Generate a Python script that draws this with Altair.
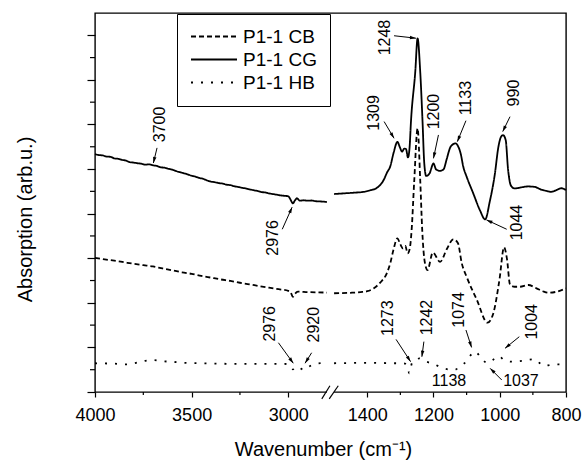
import math

import altair as alt
import pandas as pd

FONT = "Liberation Sans"

# Broken wavenumber axis: 4000-2800 cm-1 on the left part, 1500-800 cm-1 on the right part.
LEFT_SPAN = (4000, 2800)
RIGHT_SPAN = (1500, 800)
GAP = 0.031
U_MAX = 2 + GAP
W, H = 471, 379
Y_MAX = 17


def to_u(w):
    if w >= 2000:
        return (LEFT_SPAN[0] - w) / (LEFT_SPAN[0] - LEFT_SPAN[1])
    return 1 + GAP + (RIGHT_SPAN[0] - w) / (RIGHT_SPAN[0] - RIGHT_SPAN[1])


# ---- spectra: (wavenumber, absorption) ----
CG_LEFT = [
    (4000, 10.67), (3980, 10.63), (3960, 10.61), (3940, 10.56), (3920, 10.55), (3900, 10.48),
    (3880, 10.46), (3860, 10.41), (3840, 10.38), (3820, 10.31), (3800, 10.29), (3780, 10.26),
    (3760, 10.24), (3740, 10.20), (3720, 10.21), (3700, 10.17), (3680, 10.14), (3660, 10.08),
    (3640, 10.06), (3620, 10.01), (3600, 9.97), (3580, 9.91), (3560, 9.86), (3540, 9.81),
    (3520, 9.76), (3500, 9.70), (3480, 9.66), (3460, 9.60), (3440, 9.56), (3420, 9.49),
    (3400, 9.44), (3380, 9.41), (3360, 9.37), (3340, 9.35), (3320, 9.30), (3300, 9.28),
    (3280, 9.23), (3260, 9.20), (3240, 9.16), (3220, 9.13), (3200, 9.09), (3180, 9.05),
    (3160, 9.02), (3140, 8.97), (3120, 8.95), (3100, 8.91), (3080, 8.88), (3060, 8.85),
    (3040, 8.82), (3020, 8.80), (3000, 8.78), (2990, 8.66), (2976, 8.46), (2967, 8.57),
    (2955, 8.69), (2940, 8.58), (2920, 8.60), (2900, 8.58), (2880, 8.59), (2860, 8.56),
    (2840, 8.55), (2820, 8.54), (2800, 8.52),
]
CG_RIGHT = [
    (1500, 8.88), (1470, 8.91), (1440, 8.94), (1410, 8.98), (1390, 9.05), (1375, 9.12),
    (1360, 9.30), (1350, 9.52), (1340, 9.85), (1331, 10.10), (1320, 10.75), (1309, 11.22),
    (1302, 11.00), (1295, 10.78), (1288, 10.92), (1283, 10.90), (1277, 10.52), (1272, 11.00),
    (1268, 12.12), (1255, 14.36), (1248, 15.86), (1240, 14.36), (1233, 12.12), (1228, 10.30),
    (1222, 9.69), (1212, 9.80), (1200, 10.25), (1192, 9.98), (1180, 9.92), (1170, 9.98),
    (1160, 10.45), (1150, 10.95), (1140, 11.12), (1133, 11.15), (1125, 11.00), (1118, 10.70),
    (1110, 10.10), (1100, 9.66), (1080, 8.91), (1060, 8.16), (1044, 7.74), (1030, 8.55),
    (1015, 9.75), (1004, 11.00), (996, 11.45), (990, 11.52), (982, 11.30), (975, 10.00),
    (966, 9.25), (955, 9.13), (935, 9.18), (915, 9.22), (895, 9.20), (875, 9.08),
    (860, 9.02), (845, 8.98), (830, 9.05), (815, 9.14), (800, 9.06),
]
CB_LEFT = [
    (4000, 6.02), (3950, 5.95), (3900, 5.89), (3850, 5.82), (3800, 5.75), (3750, 5.69),
    (3700, 5.63), (3650, 5.54), (3600, 5.46), (3550, 5.37), (3500, 5.30), (3450, 5.21),
    (3400, 5.13), (3350, 5.05), (3300, 4.98), (3250, 4.90), (3200, 4.83), (3150, 4.75),
    (3100, 4.68), (3050, 4.61), (3000, 4.54), (2988, 4.48), (2976, 4.27), (2966, 4.40),
    (2950, 4.50), (2900, 4.48), (2850, 4.47), (2800, 4.46),
]
CB_RIGHT = [
    (1500, 4.43), (1450, 4.45), (1420, 4.48), (1400, 4.52), (1380, 4.65), (1360, 4.92),
    (1341, 5.32), (1330, 5.80), (1321, 6.37), (1309, 6.89), (1300, 6.62), (1292, 6.44),
    (1285, 6.55), (1278, 6.22), (1272, 6.40), (1266, 7.26), (1258, 9.50), (1248, 11.82),
    (1240, 9.50), (1234, 7.26), (1226, 5.80), (1218, 5.47), (1202, 6.25), (1180, 5.84),
    (1160, 6.40), (1140, 6.85), (1126, 6.67), (1115, 5.80), (1100, 5.17), (1069, 4.13),
    (1037, 3.11), (1020, 3.50), (1001, 5.02), (987, 6.49), (978, 5.95), (969, 4.82),
    (955, 4.72), (939, 4.72), (914, 4.80), (889, 4.65), (870, 4.52), (853, 4.45),
    (828, 4.50), (800, 4.65),
]
HB_LEFT = [
    (4000, 1.29), (3950, 1.28), (3900, 1.27), (3836, 1.24), (3780, 1.32), (3740, 1.40),
    (3700, 1.43), (3650, 1.38), (3594, 1.35), (3540, 1.31), (3456, 1.29), (3350, 1.27),
    (3283, 1.26), (3200, 1.26), (3110, 1.26), (3024, 1.26), (3000, 1.25), (2988, 1.18),
    (2976, 1.02), (2962, 1.14), (2945, 1.10), (2920, 0.99), (2900, 1.10), (2877, 1.21),
    (2850, 1.28), (2800, 1.31),
]
HB_RIGHT = [
    (1500, 1.29), (1450, 1.30), (1400, 1.31), (1350, 1.30), (1320, 1.29), (1290, 1.29),
    (1280, 1.20), (1273, 0.84), (1265, 1.30), (1255, 1.42), (1242, 1.51), (1225, 1.38),
    (1200, 1.26), (1170, 1.06), (1138, 0.99), (1115, 1.20), (1100, 1.38), (1085, 1.70),
    (1074, 1.81), (1055, 1.50), (1037, 1.30), (1020, 1.45), (1004, 1.61), (985, 1.42),
    (961, 1.36), (929, 1.40), (897, 1.47), (880, 1.30), (868, 1.17), (833, 1.24),
    (800, 1.22),
]
SERIES = ["P1-1 CB", "P1-1 CG", "P1-1 HB"]
DASHES = [[5, 3], [1, 0], [2, 8]]

# ---- peak annotations ----
LABELS = ["3700", "2976", "1309", "1248", "1200", "1133", "990", "1044",
          "2976", "2920", "1273", "1242", "1074", "1004", "1138", "1037"]
LABEL_W = [3664, 3081, 1379.5, 1346, 1198, 1102, 957, 949,
           3093, 2868, 1336, 1220, 1123, 904, 1153, 936]
LABEL_A = [12.0, 6.91, 12.52, 15.9, 12.58, 13.18, 13.41, 7.6,
           3.06, 3.02, 3.31, 3.34, 3.68, 3.15, 0.50, 0.49]
LABEL_ROT = [270] * 14 + [0, 0]
# arrows: start (w, a) -> tip (w, a)
ARROW_W0 = [3679, 3031, 1349, 1319, 1185, 1102, 969, 979, 3051, 2879, 1313, 1229, 1102, 941, 994]
ARROW_A0 = [10.95, 7.30, 12.13, 15.98, 11.53, 12.17, 12.35, 7.30, 2.21, 1.76, 2.36, 2.26, 2.78, 2.48, 0.54]
ARROW_W1 = [3698, 2980, 1319, 1253, 1200, 1128, 991, 1040, 2974, 2913, 1269, 1235, 1085, 984, 1029]
ARROW_A1 = [10.27, 8.29, 11.38, 15.87, 10.48, 11.23, 11.68, 7.72, 1.29, 1.29, 1.36, 1.58, 2.00, 1.96, 1.06]

MAJOR_W = [4000, 3500, 3000, 1400, 1200, 1000, 800]
MINOR_W = [3750, 3250, 1300, 1100, 900]
MAJOR_Y = list(range(0, 17, 2))
MINOR_Y = list(range(1, 17, 2))

# ---- tables ----
rows = []
for name, parts in zip(SERIES, [(CB_LEFT, CB_RIGHT), (CG_LEFT, CG_RIGHT), (HB_LEFT, HB_RIGHT)]):
    for seg, pts in zip(["left", "right"], parts):
        for w, a in pts:
            rows.append({"series": name, "seg": seg, "w": w, "u": to_u(w), "a": a})
spectra = pd.DataFrame(rows)

labels_df = pd.DataFrame({
    "text": LABELS,
    "u": [to_u(w) for w in LABEL_W],
    "a": LABEL_A,
    "rot": LABEL_ROT,
})


def head_angle(w0, a0, w1, a1):
    dx = (to_u(w1) - to_u(w0)) * W / U_MAX
    dy = -(a1 - a0) * H / Y_MAX
    return math.degrees(math.atan2(dx, -dy)) % 360


arrows_df = pd.DataFrame({
    "u0": [to_u(w) for w in ARROW_W0],
    "a0": ARROW_A0,
    "u1": [to_u(w) for w in ARROW_W1],
    "a1": ARROW_A1,
    "head": [head_angle(*p) for p in zip(ARROW_W0, ARROW_A0, ARROW_W1, ARROW_A1)],
})

minor_x_df = pd.DataFrame({"u": [to_u(w) for w in MINOR_W]})
minor_y_df = pd.DataFrame({"a": MINOR_Y})
break_df = pd.DataFrame({"u0": [1.0], "u1": [1 + GAP], "a0": [-0.25], "a1": [0.25]})
slash_df = pd.DataFrame({
    "u0": [0.978, 1.010], "u1": [1.013, 1.049],
    "a0": [-0.31, -0.31], "a1": [0.28, 0.28],
})

# ---- scales & axes ----
x_scale = alt.Scale(domain=[0, U_MAX], nice=False, zero=False)
y_scale = alt.Scale(domain=[0, Y_MAX], nice=False, zero=False)

# tick label text for each position on the broken axis
major_u = [to_u(w) for w in MAJOR_W]
label_expr = ""
for uu, ww in zip(major_u[:-1], MAJOR_W[:-1]):
    label_expr += f"datum.value < {uu + 0.01:.4f} ? '{ww}' : "
label_expr += f"'{MAJOR_W[-1]}'"

x_axis = alt.Axis(
    values=major_u, labelExpr=label_expr, grid=False, domain=False, zindex=1,
    tickSize=5, labelPadding=9, labelFontSize=18, labelFont=FONT, labelColor="black",
    labelFlush=False, labelOverlap=False,
    title="Wavenumber (cm⁻¹)", titleFont=FONT, titleFontSize=20, titleFontWeight="normal",
    titleColor="black", titleX=228, titleY=63, titleBaseline="alphabetic", titleAlign="center",
)
y_axis = alt.Axis(
    values=MAJOR_Y, labels=False, grid=False, domain=False, zindex=1, tickSize=8,
    title="Absorption (arb.u.)", titleFont=FONT, titleFontSize=20, titleFontWeight="normal",
    titleColor="black", titleAngle=270, titleX=-64, titleY=206,
    titleBaseline="alphabetic", titleAlign="center",
)

legend = alt.Legend(
    title=None, orient="none", legendX=82, legendY=1, direction="vertical",
    symbolType="stroke", symbolSize=2116, symbolStrokeWidth=1.8, symbolStrokeColor="black",
    labelFont=FONT, labelFontSize=19, labelColor="black", labelOffset=5,
    clipHeight=19, padding=13, rowPadding=3, strokeColor="black", fillColor="white",
)

lines = alt.Chart(spectra).mark_line(
    color="black", strokeWidth=1.8, interpolate="monotone"
).encode(
    x=alt.X("u:Q", scale=x_scale, axis=x_axis),
    y=alt.Y("a:Q", scale=y_scale, axis=y_axis),
    strokeDash=alt.StrokeDash(
        "series:N", scale=alt.Scale(domain=SERIES, range=DASHES), legend=legend
    ),
    detail="seg:N",
)

# The remaining layers share the scales; their axes merge into the one defined above.
minor_x = alt.Chart(minor_x_df).mark_rule(color="black", strokeWidth=1.2).encode(
    x=alt.X("u:Q", scale=x_scale),
    y=alt.value(H), y2=alt.value(H + 3),
)
minor_y = alt.Chart(minor_y_df).mark_rule(color="black", strokeWidth=1.2).encode(
    y=alt.Y("a:Q", scale=y_scale),
    x=alt.value(0), x2=alt.value(-5),
)

axis_break = alt.Chart(break_df).mark_rect(color="white").encode(
    x=alt.X("u0:Q", scale=x_scale), x2=alt.X2("u1"),
    y=alt.Y("a0:Q", scale=y_scale), y2=alt.Y2("a1"),
)
slashes = alt.Chart(slash_df).mark_rule(color="black", strokeWidth=1.2).encode(
    x=alt.X("u0:Q", scale=x_scale), x2=alt.X2("u1"),
    y=alt.Y("a0:Q", scale=y_scale), y2=alt.Y2("a1"),
)

arrow_lines = alt.Chart(arrows_df).mark_rule(color="black", strokeWidth=1).encode(
    x=alt.X("u0:Q", scale=x_scale), x2=alt.X2("u1"),
    y=alt.Y("a0:Q", scale=y_scale), y2=alt.Y2("a1"),
)
arrow_heads = alt.Chart(arrows_df).mark_point(
    shape="M0,0L0.7,2.4L-0.7,2.4Z", filled=True, size=25, color="black", opacity=1
).encode(
    x=alt.X("u1:Q", scale=x_scale),
    y=alt.Y("a1:Q", scale=y_scale),
    angle=alt.Angle("head:Q", scale=None),
)

peak_labels = alt.Chart(labels_df).mark_text(
    font=FONT, fontSize=16, color="black", align="center", baseline="middle"
).encode(
    x=alt.X("u:Q", scale=x_scale),
    y=alt.Y("a:Q", scale=y_scale),
    text="text:N",
    angle=alt.Angle("rot:Q", scale=None),
)

chart = alt.layer(
    lines, minor_x, minor_y, axis_break, slashes, arrow_lines, arrow_heads, peak_labels
).properties(
    width=W, height=H,
    padding={"left": 95, "top": 13, "right": 18, "bottom": 70},
    autosize=alt.AutoSizeParams(type="none"),
    background="white",
).configure_view(
    stroke="black", strokeWidth=1.4
).configure_axis(
    tickColor="black", tickWidth=1.2,
)

chart.save("out.html", embed_options={"renderer": "svg", "actions": False})
